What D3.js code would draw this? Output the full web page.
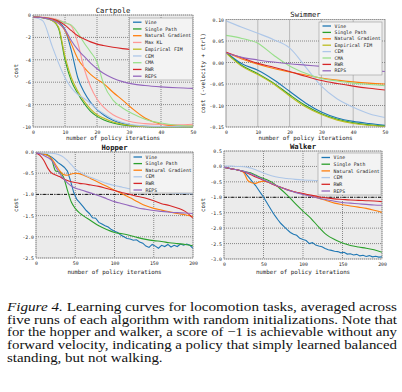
<!DOCTYPE html>
<html><head><meta charset="utf-8">
<script src="https://cdn.jsdelivr.net/npm/d3@7"></script>
<style>body{margin:0;background:#fff}svg{display:block}</style>
</head><body>
<script>
// ---------- DATA ----------
const names = ["Vine","Single Path","Natural Gradient","Max KL","Empirical FIM","CEM","CMA","RWR","REPS"];
const colors = {"Vine":"#1f77b4","Single Path":"#2ca02c","Natural Gradient":"#ff7f0e","Max KL":"#ff9896","Empirical FIM":"#bcbd22","CEM":"#aec7e8","CMA":"#98df8a","RWR":"#d62728","REPS":"#9467bd"};

// Cartpole
const cartX = [0,3,6,8,10,12,14,16,18,20,22,25,28,31,35,40,45,50];
const cartVine = [-0.18,-0.22,-0.35,-0.6,-1.3,-3.2,-5.6,-6.9,-7.8,-8.45,-8.9,-9.4,-9.7,-9.85,-9.93,-9.97,-9.99,-10];
const cartSingle = [-0.18,-0.25,-0.5,-1.2,-4.0,-5.9,-7.0,-7.9,-8.6,-9.05,-9.35,-9.65,-9.82,-9.92,-9.97,-10,-10,-10];
const cartNatural = [-0.18,-0.22,-0.4,-0.7,-1.4,-2.6,-3.9,-4.7,-5.3,-5.75,-6.1,-6.9,-7.6,-8.35,-9.2,-9.75,-9.9,-9.92];
const cartMaxKL = [-0.15,-0.2,-0.3,-0.45,-0.7,-1.0,-2.5,-4.8,-6.4,-7.5,-8.2,-8.9,-9.3,-9.55,-9.7,-9.78,-9.8,-9.75];
const cartFIM = [-0.18,-0.25,-0.5,-1.1,-3.7,-5.6,-6.8,-7.7,-8.4,-8.9,-9.2,-9.55,-9.75,-9.88,-9.95,-9.98,-10,-10];
const cartCEM = [-0.2,-0.5,-2.8,-4.3,-5.6,-6.5,-7.1,-7.45,-7.9,-8.4,-8.8,-9.3,-9.6,-9.8,-9.9,-9.95,-9.97,-9.98];
const cartCMA = [-0.18,-0.22,-0.35,-0.5,-0.7,-0.9,-1.6,-2.5,-3.3,-4.2,-6.1,-7.6,-8.3,-8.8,-9.3,-9.65,-9.85,-9.92];
const cartRWR = [-0.18,-0.22,-0.35,-0.55,-0.9,-1.4,-1.85,-2.15,-2.4,-2.6,-2.72,-2.88,-3.0,-3.1,-3.2,-3.28,-3.33,-3.37];
const cartREPS = [-0.18,-0.25,-0.45,-0.75,-1.3,-2.3,-3.1,-3.7,-4.3,-4.8,-5.2,-5.65,-5.95,-6.15,-6.3,-6.42,-6.5,-6.55];
const cartXTicks = [0,10,20,30,40,50];
const cartYTicks = [0,-2,-4,-6,-8,-10];

// Swimmer
const swimX = [0,5,10,15,20,25,30,35,40,45,50];
const swimVine = [0.024,-0.003,-0.018,-0.04,-0.067,-0.094,-0.115,-0.129,-0.137,-0.142,-0.146];
const swimSingle = [0.023,-0.007,-0.026,-0.048,-0.075,-0.1,-0.119,-0.132,-0.14,-0.145,-0.148];
const swimNatural = [0.024,0.008,-0.004,-0.014,-0.022,-0.029,-0.036,-0.041,-0.045,-0.048,-0.05];
const swimFIM = [0.022,-0.009,-0.028,-0.05,-0.078,-0.103,-0.121,-0.134,-0.142,-0.146,-0.149];
const swimCEM = [0.097,0.082,0.068,0.053,0.034,-0.01,-0.055,-0.085,-0.104,-0.119,-0.128];
const swimCMA = [0.063,0.056,0.045,0.017,-0.008,-0.025,-0.037,-0.043,-0.048,-0.051,-0.054];
const swimRWR = [0.024,0.011,-0.002,-0.011,-0.021,-0.032,-0.042,-0.049,-0.055,-0.06,-0.064];
const swimREPS = [0.022,0.012,0.006,0.001,-0.003,-0.006,-0.009,-0.012,-0.015,-0.018,-0.021];
const swimXTicks = [0,10,20,30,40,50];
const swimYTicks = [0.10,0.05,0.00,-0.05,-0.10,-0.15];

// Hopper
const hopX = [0,5,10,15,20,25,30,35,40,45,50,55,60,70,80,90,100,110,120,130,140,150,160,170,180,190,200];
const hopVineX = [0,4,8,12,16,20,24,28,32,36,40,44,48,52,56,60,64,68,72,76,80,84,88,92,96,100,104,108,112,116,120,124,128,132,136,140,144,148,152,156,160,164,168,172,176,180,184,188,192,196,200];
const hopVine = [-0.02,-0.03,-0.04,-0.06,-0.08,-0.12,-0.18,-0.25,-0.3,-0.36,-0.45,-0.68,-0.95,-1.12,-1.2,-1.29,-1.38,-1.45,-1.55,-1.56,-1.66,-1.7,-1.74,-1.77,-1.83,-1.87,-1.9,-1.96,-2.0,-2.04,-2.05,-2.08,-2.07,-2.12,-2.15,-2.22,-2.25,-2.18,-2.22,-2.27,-2.2,-2.23,-2.18,-2.24,-2.2,-2.23,-2.17,-2.2,-2.17,-2.2,-2.27];
const hopSingle = [-0.02,-0.03,-0.05,-0.07,-0.18,-0.45,-0.47,-0.59,-0.9,-1.18,-1.33,-1.43,-1.5,-1.62,-1.74,-1.83,-1.9,-1.93,-1.97,-2.02,-2.06,-2.09,-2.11,-2.14,-2.16,-2.18,-2.21];
const hopNatural = [-0.02,-0.03,-0.05,-0.08,-0.16,-0.3,-0.44,-0.53,-0.55,-0.52,-0.5,-0.51,-0.54,-0.63,-0.72,-0.81,-0.9,-0.99,-1.08,-1.18,-1.27,-1.33,-1.37,-1.41,-1.45,-1.48,-1.52];
const hopCEM = [-0.02,-0.02,-0.03,-0.03,-0.03,-0.04,-0.07,-0.12,-0.2,-0.3,-0.4,-0.46,-0.52,-0.6,-0.67,-0.74,-0.79,-0.83,-0.87,-0.9,-0.92,-0.94,-0.95,-0.96,-0.97,-0.98,-0.99];
const hopRWR = [-0.02,-0.08,-0.2,-0.38,-0.5,-0.54,-0.58,-0.63,-0.67,-0.7,-0.72,-0.74,-0.75,-0.78,-0.81,-0.86,-0.91,-0.96,-1.0,-1.05,-1.09,-1.15,-1.22,-1.26,-1.32,-1.4,-1.56];
const hopREPS = [-0.02,-0.04,-0.08,-0.13,-0.2,-0.35,-0.5,-0.63,-0.73,-0.8,-0.85,-0.88,-0.91,-0.97,-1.03,-1.1,-1.17,-1.22,-1.27,-1.32,-1.35,-1.38,-1.4,-1.42,-1.43,-1.44,-1.45];
const hopXTicks = [0,50,100,150,200];
const hopYTicks = [0.0,-0.5,-1.0,-1.5,-2.0,-2.5];

// Walker
const walkX = hopX;
const walkVineX = hopVineX;
const walkVine = [-0.03,-0.05,-0.07,-0.09,-0.11,-0.13,-0.16,-0.25,-0.37,-0.5,-0.62,-0.77,-0.92,-1.08,-1.25,-1.42,-1.58,-1.72,-1.85,-1.95,-2.05,-2.14,-2.2,-2.23,-2.33,-2.37,-2.4,-2.5,-2.47,-2.55,-2.58,-2.6,-2.66,-2.7,-2.72,-2.75,-2.76,-2.8,-2.78,-2.84,-2.83,-2.87,-2.85,-2.9,-2.88,-2.92,-2.89,-2.93,-2.91,-2.94,-2.93];
const walkSingle = [-0.03,-0.05,-0.08,-0.1,-0.13,-0.16,-0.19,-0.22,-0.28,-0.34,-0.39,-0.44,-0.5,-0.7,-0.93,-1.2,-1.45,-1.68,-1.97,-2.22,-2.37,-2.48,-2.56,-2.61,-2.65,-2.7,-2.78];
const walkNatural = [-0.03,-0.05,-0.08,-0.1,-0.13,-0.2,-0.45,-0.53,-0.55,-0.5,-0.48,-0.5,-0.55,-0.66,-0.76,-0.83,-0.89,-0.96,-1.03,-1.11,-1.19,-1.24,-1.28,-1.32,-1.36,-1.42,-1.49];
const walkCEM = [0.01,0.01,0.01,0.0,0.0,-0.01,-0.03,-0.06,-0.11,-0.16,-0.21,-0.26,-0.3,-0.36,-0.39,-0.42,-0.44,-0.45,-0.46,-0.47,-0.47,-0.48,-0.48,-0.48,-0.49,-0.49,-0.49];
const walkRWR = [-0.03,-0.05,-0.08,-0.1,-0.13,-0.17,-0.22,-0.28,-0.34,-0.39,-0.45,-0.5,-0.56,-0.66,-0.75,-0.83,-0.88,-0.93,-0.98,-1.02,-1.05,-1.07,-1.09,-1.1,-1.11,-1.12,-1.14];
const walkREPS = [-0.03,-0.05,-0.08,-0.1,-0.13,-0.16,-0.2,-0.25,-0.31,-0.37,-0.43,-0.49,-0.55,-0.66,-0.76,-0.84,-0.91,-0.97,-1.03,-1.08,-1.13,-1.17,-1.19,-1.21,-1.23,-1.25,-1.26];
const walkXTicks = [0,50,100,150,200];
const walkYTicks = [0.5,0.0,-0.5,-1.0,-1.5,-2.0,-2.5,-3.0];

const captionLines = [
  ["Figure 4.", " Learning curves for locomotion tasks, averaged across"],
  ["", "five runs of each algorithm with random initializations. Note that"],
  ["", "for the hopper and walker, a score of \u22121 is achievable without any"],
  ["", "forward velocity, indicating a policy that simply learned balanced"],
  ["", "standing, but not walking."]
];

// ---------- DRAW ----------
const svg = d3.select("body").append("svg").attr("width",402).attr("height",392);
const MONO = "'DejaVu Sans Mono', monospace";

function panel(cfg){
  const x = d3.scaleLinear().domain(cfg.xd).range([cfg.l, cfg.r]);
  const y = d3.scaleLinear().domain(cfg.yd).range([cfg.b, cfg.t]);
  const g = svg.append("g");
  g.append("rect").attr("x",cfg.l).attr("y",cfg.t).attr("width",cfg.r-cfg.l).attr("height",cfg.b-cfg.t)
    .attr("fill","#ebebeb");
  cfg.xt.forEach(v=>{ g.append("line").attr("x1",x(v)).attr("x2",x(v)).attr("y1",cfg.t).attr("y2",cfg.b)
    .attr("stroke","#444").attr("stroke-width",0.6).attr("stroke-dasharray","1,1"); });
  cfg.yt.forEach(v=>{ g.append("line").attr("y1",y(v)).attr("y2",y(v)).attr("x1",cfg.l).attr("x2",cfg.r)
    .attr("stroke","#444").attr("stroke-width",0.6).attr("stroke-dasharray","1,1"); });
  const xa = g.append("g").attr("transform",`translate(0,${cfg.b})`)
    .call(d3.axisBottom(x).tickValues(cfg.xt).tickFormat(cfg.xf).tickSize(0).tickPadding(4));
  const ya = g.append("g").attr("transform",`translate(${cfg.l},0)`)
    .call(d3.axisLeft(y).tickValues(cfg.yt).tickFormat(cfg.yf).tickSize(0).tickPadding(2));
  [xa,ya].forEach(a=>{ a.select(".domain").remove(); a.selectAll("text").attr("font-family",MONO).attr("font-size",4.8).attr("fill","#222"); });
  const cid = "clip"+cfg.title;
  svg.append("clipPath").attr("id",cid).append("rect").attr("x",cfg.l).attr("y",cfg.t-1).attr("width",cfg.r-cfg.l).attr("height",cfg.b-cfg.t+2);
  if(cfg.hline!==undefined){
    g.append("line").attr("x1",cfg.l).attr("x2",cfg.r).attr("y1",y(cfg.hline)).attr("y2",y(cfg.hline))
      .attr("stroke","#000").attr("stroke-width",0.9).attr("stroke-dasharray","3,1.5,1,1.5");
  }
  const lg = g.append("g").attr("clip-path",`url(#${cid})`);
  cfg.series.forEach(s=>{
    const pts = s.x.map((xv,i)=>[xv,s.y[i]]);
    lg.append("path").datum(pts).attr("fill","none").attr("stroke",colors[s.name]).attr("stroke-width",1.1)
      .attr("d", d3.line().x(d=>x(d[0])).y(d=>y(d[1])).curve(s.noisy? d3.curveLinear : d3.curveMonotoneX));
  });
  g.append("rect").attr("x",cfg.l).attr("y",cfg.t).attr("width",cfg.r-cfg.l).attr("height",cfg.b-cfg.t)
    .attr("fill","none").attr("stroke","#999").attr("stroke-width",0.6);
  g.append("text").attr("x",(cfg.l+cfg.r)/2).attr("y",cfg.t-2.5).attr("text-anchor","middle")
    .attr("font-family",MONO).attr("font-size",7.2).attr("font-weight",cfg.bold?"bold":"normal").attr("fill","#111").text(cfg.title);
  g.append("text").attr("x",(cfg.l+cfg.r)/2).attr("y",cfg.xlY).attr("text-anchor","middle")
    .attr("font-family",MONO).attr("font-size",5.8).attr("fill","#222").text("number of policy iterations");
  g.append("text").attr("transform",`translate(${cfg.ylX},${(cfg.t+cfg.b)/2}) rotate(-90)`).attr("text-anchor","middle")
    .attr("font-family",MONO).attr("font-size",5.8).attr("fill","#222").text(cfg.ylabel);
  const L = cfg.leg;
  const lgd = g.append("g");
  lgd.append("rect").attr("x",L.x).attr("y",L.y).attr("width",L.w).attr("height",L.h)
    .attr("fill","#f3f3f3").attr("stroke","#999").attr("stroke-width",0.6);
  cfg.series.forEach((s,i)=>{
    const yy = L.y + L.pad + i*L.dy;
    lgd.append("line").attr("x1",L.x+3.5).attr("x2",L.x+12).attr("y1",yy).attr("y2",yy)
      .attr("stroke",colors[s.name]).attr("stroke-width",1.3);
    lgd.append("text").attr("x",L.x+15.5).attr("y",yy+1.6).attr("font-family",MONO).attr("font-size",4.8)
      .attr("fill","#222").text(s.name);
  });
}

const intFmt = d=>String(d);
const f2 = d=>d.toFixed(2);
const f1 = d=>d.toFixed(1);

panel({title:"Cartpole", l:33, r:193, t:15, b:127, xd:[0,50], yd:[-10,0], xt:cartXTicks, yt:cartYTicks, xf:intFmt, yf:intFmt,
  xlY:139.5, ylX:17.5, ylabel:"cost",
  leg:{x:129.5,y:18,w:63,h:62,pad:4.2,dy:6.75},
  series:[{name:"Vine",x:cartX,y:cartVine},{name:"Single Path",x:cartX,y:cartSingle},{name:"Natural Gradient",x:cartX,y:cartNatural},
    {name:"Max KL",x:cartX,y:cartMaxKL},{name:"Empirical FIM",x:cartX,y:cartFIM},{name:"CEM",x:cartX,y:cartCEM},
    {name:"CMA",x:cartX,y:cartCMA},{name:"RWR",x:cartX,y:cartRWR},{name:"REPS",x:cartX,y:cartREPS}]});

panel({title:"Swimmer", l:226, r:385, t:19.5, b:127, xd:[0,50], yd:[-0.15,0.10], xt:swimXTicks, yt:swimYTicks, xf:intFmt, yf:f2,
  xlY:139.5, ylX:205, ylabel:"cost (-velocity + ctrl)",
  leg:{x:319,y:22,w:63,h:53,pad:4,dy:6.4},
  series:[{name:"Vine",x:swimX,y:swimVine},{name:"Single Path",x:swimX,y:swimSingle},{name:"Natural Gradient",x:swimX,y:swimNatural},
    {name:"Empirical FIM",x:swimX,y:swimFIM},{name:"CEM",x:swimX,y:swimCEM},{name:"CMA",x:swimX,y:swimCMA},
    {name:"RWR",x:swimX,y:swimRWR},{name:"REPS",x:swimX,y:swimREPS}]});

panel({title:"Hopper", bold:true, l:36, r:193, t:152, b:258, xd:[0,200], yd:[-2.5,0], xt:hopXTicks, yt:hopYTicks, xf:intFmt, yf:f1,
  xlY:273.5, ylX:17.5, ylabel:"cost", hline:-1.0,
  leg:{x:130,y:153,w:63,h:40,pad:4,dy:6.6},
  series:[{name:"Vine",x:hopVineX,y:hopVine,noisy:true},{name:"Single Path",x:hopX,y:hopSingle},{name:"Natural Gradient",x:hopX,y:hopNatural},
    {name:"CEM",x:hopX,y:hopCEM},{name:"RWR",x:hopX,y:hopRWR},{name:"REPS",x:hopX,y:hopREPS}]});

panel({title:"Walker", bold:true, l:224, r:382, t:151, b:259, xd:[0,200], yd:[-3.0,0.5], xt:walkXTicks, yt:walkYTicks, xf:intFmt, yf:f1,
  xlY:273.5, ylX:205, ylabel:"cost", hline:-1.0,
  leg:{x:318,y:153,w:63,h:42,pad:4.5,dy:6.7},
  series:[{name:"Vine",x:walkVineX,y:walkVine,noisy:true},{name:"Single Path",x:walkX,y:walkSingle},{name:"Natural Gradient",x:walkX,y:walkNatural},
    {name:"CEM",x:walkX,y:walkCEM},{name:"RWR",x:walkX,y:walkRWR},{name:"REPS",x:walkX,y:walkREPS}]});

// ---------- CAPTION (justified by stretching each line to the column width) ----------
const capL = 7, capR = 397, capY0 = 310.8, capDy = 12.75, capFS = 12.8;
const cap = svg.append("g").attr("font-family","'Liberation Serif','Times New Roman',serif").attr("font-size",capFS).attr("fill","#111");
const capNodes = captionLines.map((ln,li)=>{
  const t = cap.append("text").attr("x",capL).attr("y",capY0 + li*capDy).attr("xml:space","preserve");
  if(ln[0]) t.append("tspan").attr("font-style","italic").text(ln[0]);
  t.append("tspan").text(ln[1]);
  return {t, w:t.node().getComputedTextLength()};
});
const fullW = capR-capL;
const factors = capNodes.slice(0,-1).map(d=>fullW/d.w);
const avgF = d3.mean(factors);
capNodes.forEach((d,i)=>{
  const target = i<capNodes.length-1 ? fullW : d.w*avgF;
  d.t.attr("textLength",target).attr("lengthAdjust","spacingAndGlyphs");
});
</script>
</body></html>
